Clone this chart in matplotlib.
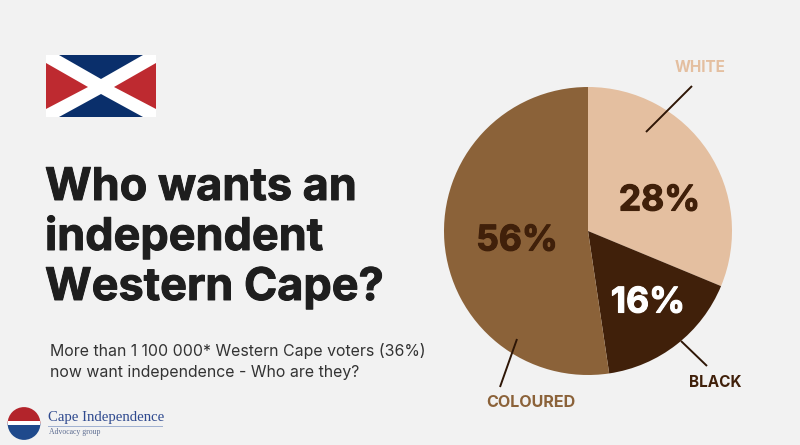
import matplotlib
matplotlib.use("Agg")
import matplotlib.pyplot as plt
import matplotlib.patheffects as pe
from matplotlib.patches import Polygon, Rectangle, Wedge

categories = ["WHITE", "BLACK", "COLOURED"]
printed_labels = ["28%", "16%", "56%"]
# Slice sizes as drawn in the picture (they differ from the printed labels)
drawn_shares = [31.25, 16.4, 52.35]
colors = ["#E4BFA0", "#40200A", "#8B6239"]
pct_colors = ["#40200A", "#FFFFFF", "#40200A"]
title_lines = ["Who wants an", "independent", "Western Cape?"]
subtitle_lines = ["More than 1 100 000* Western Cape voters (36%)", "now want independence - Who are they?"]

BG = "#F2F2F2"
W, H = 800, 445
fig = plt.figure(figsize=(W / 100, H / 100), dpi=100, facecolor=BG)
ax = fig.add_axes([0, 0, 1, 1])
Y = lambda y: H - y

ax.pie(drawn_shares, colors=colors, startangle=90, counterclock=False,
       center=(588, Y(231)), radius=144, frame=True)
ax.set_xlim(0, W)
ax.set_ylim(0, H)
ax.set_aspect("equal")
ax.axis("off")

font = "Inter"
pct_pos = [(659.5, 210.5), (648, 312.5), (517, 250.5)]
for t, c, (x, y) in zip(printed_labels, pct_colors, pct_pos):
    ax.text(x, Y(y), t, color=c, fontsize=25.5, fontweight="bold", family=font,
            ha="center", va="baseline",
            path_effects=[pe.withStroke(linewidth=0.8, foreground=c)])

lines = [((646, 132), (692, 86)), ((681, 341), (707, 366)), ((517, 339), (500, 387))]
lab_pos = [(700.5, 67.5), (715, 382.5), (530.5, 402.5)]
lab_size = [11, 11, 11.6]
for (a, b), name, (x, y), c, s in zip(lines, categories, lab_pos, colors, lab_size):
    ax.plot([a[0], b[0]], [Y(a[1]), Y(b[1])], color="#2E1606", lw=1.4, solid_capstyle="butt")
    ax.text(x, Y(y), name, color=c, fontsize=s, fontweight="bold", family=font,
            ha="center", va="center")

for line, y in zip(title_lines, [200, 250, 300]):
    ax.text(45, Y(y), line, color="#1E1E1E", fontsize=32.4, fontweight="bold", family=font,
            ha="left", va="baseline",
            path_effects=[pe.withStroke(linewidth=0.7, foreground="#1E1E1E")])
for line, y in zip(subtitle_lines, [356, 376.5]):
    ax.text(49.5, Y(y), line, color="#333333", fontsize=11.45, family=font, ha="left", va="baseline")

# Flag
x0, x1, y0, y1 = 46, 156, 55, 117
ax.add_patch(Rectangle((x0, Y(y1)), x1 - x0, y1 - y0, fc="#FFFFFF", ec="none"))
ax.add_patch(Polygon([(59, Y(y0)), (143, Y(y0)), (101, Y(79))], fc="#0A2F6B", ec="none"))
ax.add_patch(Polygon([(59, Y(y1)), (143, Y(y1)), (101, Y(94))], fc="#0A2F6B", ec="none"))
ax.add_patch(Polygon([(x0, Y(63)), (x0, Y(109)), (88, Y(87))], fc="#BE2A30", ec="none"))
ax.add_patch(Polygon([(x1, Y(63)), (x1, Y(109)), (114, Y(87))], fc="#BE2A30", ec="none"))

# Logo
ax.add_patch(Wedge((24, Y(423.5)), 16.4, 0, 180, fc="#B3242B", ec="none"))
ax.add_patch(Wedge((24, Y(423.5)), 16.4, 180, 360, fc="#1F4A8C", ec="none"))
ax.add_patch(Rectangle((7.6, Y(425)), 32.8, 4, fc="#FFFFFF", ec="none"))
ax.text(48, Y(418), "Cape Independence", family="Liberation Serif", fontsize=10.6, color="#2F4A8F",
        ha="left", va="center")
ax.plot([48, 162], [Y(425.7), Y(425.7)], color="#9FB0D0", lw=0.7)
ax.text(49, Y(432), "Advocacy group", family="Liberation Serif", fontsize=5.6, color="#5F6E92",
        ha="left", va="center")

fig.savefig("out.png", dpi=100, facecolor=BG)
